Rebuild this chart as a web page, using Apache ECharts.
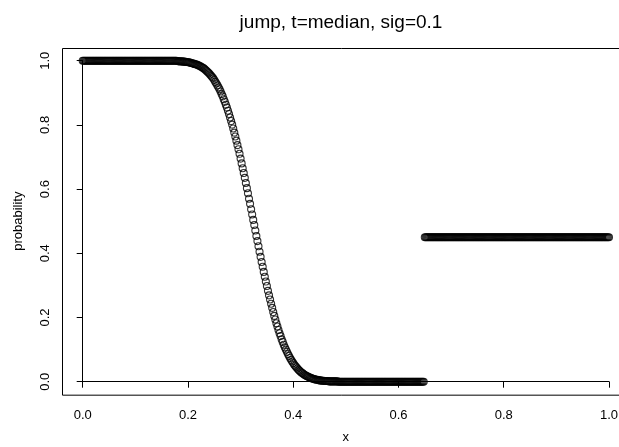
<!DOCTYPE html>
<html>
<head>
<meta charset="utf-8">
<script src="https://cdn.jsdelivr.net/npm/echarts@6/dist/echarts.min.js"></script>
<style>
  html, body { margin: 0; padding: 0; background: #fff; }
  #chart { width: 619px; height: 447px; }
</style>
</head>
<body>
<div id="chart"></div>
<script>
// Labels
const titleText = 'jump, t=median, sig=0.1';
const xName = 'x';
const yName = 'probability';

// Axis ticks
const xTicks = [0, 0.2, 0.4, 0.6, 0.8, 1.0];
const yTicks = [0, 0.2, 0.4, 0.6, 0.8, 1.0];

// Falling part: x in thousandths, probability at each x
const fallX = [
  0,2,4,6,8,10,12,14,16,18,
  20,22,24,26,28,30,32,34,36,38,
  40,42,44,46,48,50,52,54,56,58,
  60,62,64,66,68,70,72,74,76,78,
  80,82,84,86,88,90,92,94,96,98,
  100,102,104,106,108,110,112,114,116,118,
  120,122,124,126,128,130,132,134,136,138,
  140,142,144,146,148,150,152,154,156,158,
  160,162,164,166,168,170,172,174,176,178,
  180,182,184,186,188,190,192,194,196,198,
  200,202,204,206,208,210,212,214,216,218,
  220,222,224,226,228,230,232,234,236,238,
  240,242,244,246,248,250,252,254,256,258,
  260,262,264,266,268,270,272,274,276,278,
  280,282,284,286,288,290,292,294,296,298,
  300,302,304,306,308,310,312,314,316,318,
  320,322,324,326,328,330,332,334,336,338,
  340,342,344,346,348,350,352,354,356,358,
  360,362,364,366,368,370,372,374,376,378,
  380,382,384,386,388,390,392,394,396,398,
  400,402,404,406,408,410,412,414,416,418,
  420,422,424,426,428,430,432,434,436,438,
  440,442,444,446,448,450,452,454,456,458,
  460,462,464,466,468,470,472,474,476,478,
  480,482,484,486,488,490,492,494,496,498,
  500,502,504,506,508,510,512,514,516,518,
  520,522,524,526,528,530,532,534,536,538,
  540,542,544,546,548,550,552,554,556,558,
  560,562,564,566,568,570,572,574,576,578,
  580,582,584,586,588,590,592,594,596,598,
  600,602,604,606,608,610,612,614,616,618,
  620,622,624,626,628,630,632,634,636,638,
  640,642,644,646,648
];
const fallP = [
  1,1,1,1,1,1,1,1,1,1,
  1,1,1,1,1,1,1,1,1,1,
  1,1,1,1,1,1,1,1,1,1,
  1,1,1,1,1,1,1,1,1,1,
  1,1,1,1,1,1,1,1,1,1,
  1,1,1,1,1,1,1,1,1,1,
  1,1,1,1,1,1,1,1,1,1,
  1,1,1,1,1,1,1,1,1,1,
  1,1,1,1,1,1,1,1,1,1,
  .999,.998,.998,.998,.998,.997,.997,.997,.996,.996,
  .995,.995,.994,.993,.992,.991,.990,.989,.988,.987,
  .985,.984,.982,.980,.978,.976,.973,.970,.967,.964,
  .961,.957,.953,.949,.945,.940,.934,.929,.923,.917,
  .911,.904,.896,.889,.880,.872,.863,.854,.844,.834,
  .823,.812,.801,.789,.776,.764,.751,.737,.724,.710,
  .695,.680,.665,.650,.635,.619,.603,.587,.570,.554,
  .537,.521,.504,.488,.471,.454,.438,.422,.405,.389,
  .373,.358,.342,.327,.312,.298,.283,.269,.256,.243,
  .230,.217,.205,.194,.182,.172,.161,.151,.142,.132,
  .124,.115,.107,.100,.093,.086,.080,.074,.068,.063,
  .058,.053,.049,.045,.041,.037,.034,.031,.028,.026,
  .023,.021,.019,.017,.016,.014,.013,.011,.010,.009,
  .008,.007,.006,.006,.005,.004,.004,.003,.003,.003,
  .002,.002,.002,.002,.001,.001,.001,.001,.001,.001,
  .001,.001,.001,0,0,0,0,0,0,0,
  0,0,0,0,0,0,0,0,0,0,
  0,0,0,0,0,0,0,0,0,0,
  0,0,0,0,0,0,0,0,0,0,
  0,0,0,0,0,0,0,0,0,0,
  0,0,0,0,0,0,0,0,0,0,
  0,0,0,0,0,0,0,0,0,0,
  0,0,0,0,0,0,0,0,0,0,
  0,0,0,0,0
];

// Flat part after the jump: x in thousandths, probability at each x
const flatX = [
  650,652,654,656,658,660,662,664,666,668,
  670,672,674,676,678,680,682,684,686,688,
  690,692,694,696,698,700,702,704,706,708,
  710,712,714,716,718,720,722,724,726,728,
  730,732,734,736,738,740,742,744,746,748,
  750,752,754,756,758,760,762,764,766,768,
  770,772,774,776,778,780,782,784,786,788,
  790,792,794,796,798,800,802,804,806,808,
  810,812,814,816,818,820,822,824,826,828,
  830,832,834,836,838,840,842,844,846,848,
  850,852,854,856,858,860,862,864,866,868,
  870,872,874,876,878,880,882,884,886,888,
  890,892,894,896,898,900,902,904,906,908,
  910,912,914,916,918,920,922,924,926,928,
  930,932,934,936,938,940,942,944,946,948,
  950,952,954,956,958,960,962,964,966,968,
  970,972,974,976,978,980,982,984,986,988,
  990,992,994,996,998,1000
];
const flatP = [
  .45,.45,.45,.45,.45,.45,.45,.45,.45,.45,
  .45,.45,.45,.45,.45,.45,.45,.45,.45,.45,
  .45,.45,.45,.45,.45,.45,.45,.45,.45,.45,
  .45,.45,.45,.45,.45,.45,.45,.45,.45,.45,
  .45,.45,.45,.45,.45,.45,.45,.45,.45,.45,
  .45,.45,.45,.45,.45,.45,.45,.45,.45,.45,
  .45,.45,.45,.45,.45,.45,.45,.45,.45,.45,
  .45,.45,.45,.45,.45,.45,.45,.45,.45,.45,
  .45,.45,.45,.45,.45,.45,.45,.45,.45,.45,
  .45,.45,.45,.45,.45,.45,.45,.45,.45,.45,
  .45,.45,.45,.45,.45,.45,.45,.45,.45,.45,
  .45,.45,.45,.45,.45,.45,.45,.45,.45,.45,
  .45,.45,.45,.45,.45,.45,.45,.45,.45,.45,
  .45,.45,.45,.45,.45,.45,.45,.45,.45,.45,
  .45,.45,.45,.45,.45,.45,.45,.45,.45,.45,
  .45,.45,.45,.45,.45,.45,.45,.45,.45,.45,
  .45,.45,.45,.45,.45,.45,.45,.45,.45,.45,
  .45,.45,.45,.45,.45,.45
];

const FONT = 'Liberation Sans, Arial, Helvetica, sans-serif';
const W = 619, H = 447;
// plotting area for the 0..1 scale, and 4% padding beyond it for the frame
const grid = { left: 82.7, right: 10, top: 60.7, bottom: 65.3 };
const plotW = W - grid.left - grid.right;
const plotH = H - grid.top - grid.bottom;
const pad = 0.04;

const toPairs = (xs, ps) => xs.map((x, i) => [x / 1000, ps[i]]);
const fmt = v => v.toFixed(1);

const pointStyle = {
  color: 'rgba(0,0,0,0)',
  borderColor: '#000',
  borderWidth: 1.1
};

const chart = echarts.init(document.getElementById('chart'), null, { renderer: 'canvas' });

chart.setOption({
  animation: false,
  backgroundColor: '#fff',
  title: {
    text: titleText,
    left: 336,
    textAlign: 'center',
    top: 8,
    textStyle: { fontFamily: FONT, fontSize: 19, fontWeight: 'normal', color: '#000' }
  },
  grid: {
    left: grid.left, right: grid.right, top: grid.top, bottom: grid.bottom,
    containLabel: false,
    outerBoundsMode: 'none'
  },
  xAxis: {
    type: 'value',
    min: xTicks[0],
    max: xTicks[xTicks.length - 1],
    interval: 0.2,
    offset: pad * plotH,
    name: xName,
    nameLocation: 'middle',
    nameGap: 36,
    nameTextStyle: { fontFamily: FONT, fontSize: 13, color: '#000' },
    axisLine: { show: true, lineStyle: { color: '#000', width: 1 } },
    axisTick: { show: true, inside: false, length: 6, lineStyle: { color: '#000', width: 1 } },
    axisLabel: { fontFamily: FONT, fontSize: 13, color: '#000', margin: 14, formatter: fmt },
    splitLine: { show: false }
  },
  yAxis: {
    type: 'value',
    min: yTicks[0],
    max: yTicks[yTicks.length - 1],
    interval: 0.2,
    offset: pad * plotW,
    name: yName,
    nameLocation: 'middle',
    nameGap: 37,
    nameTextStyle: { fontFamily: FONT, fontSize: 13, color: '#000' },
    axisLine: { show: true, lineStyle: { color: '#000', width: 1 } },
    axisTick: { show: true, inside: false, length: 6, lineStyle: { color: '#000', width: 1 } },
    axisLabel: { fontFamily: FONT, fontSize: 13, color: '#000', margin: 10, rotate: 90, formatter: fmt },
    splitLine: { show: false }
  },
  series: [
    {
      type: 'scatter',
      data: toPairs(fallX, fallP),
      symbol: 'circle',
      symbolSize: 7,
      itemStyle: pointStyle,
      clip: false,
      silent: true
    },
    {
      type: 'scatter',
      data: toPairs(flatX, flatP),
      symbol: 'circle',
      symbolSize: 7,
      itemStyle: pointStyle,
      clip: false,
      silent: true
    }
  ]
});

// frame around the padded data region
const tl = chart.convertToPixel({ gridIndex: 0 }, [xTicks[0] - pad, yTicks[yTicks.length - 1] + pad]);
const br = chart.convertToPixel({ gridIndex: 0 }, [xTicks[xTicks.length - 1] + pad, yTicks[0] - pad]);
chart.setOption({
  graphic: [{
    type: 'rect',
    shape: { x: Math.round(tl[0]) + 0.5, y: Math.round(tl[1]) + 0.5, width: br[0] - tl[0], height: br[1] - tl[1] },
    style: { fill: null, stroke: '#000', lineWidth: 1 },
    silent: true
  }]
});
</script>
</body>
</html>
